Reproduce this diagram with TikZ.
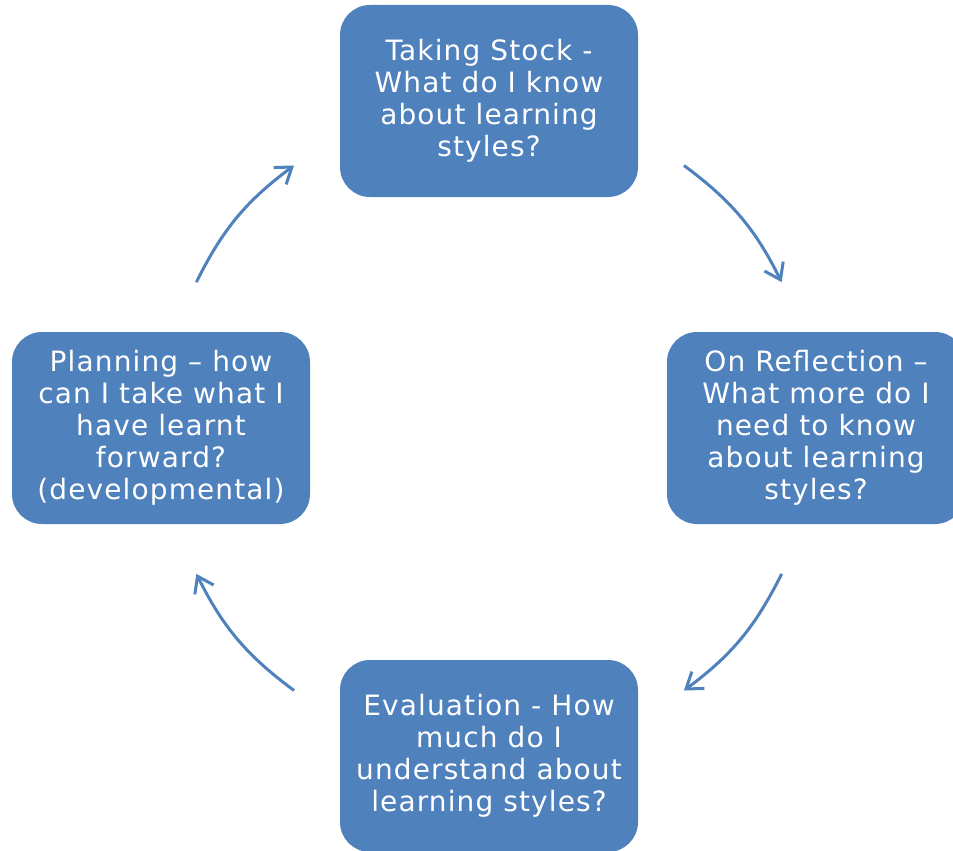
\documentclass[tikz,border=0pt]{standalone}
\usepackage{fontspec}
\setmainfont{DejaVu Sans}[LetterSpace=4]
\usetikzlibrary{arrows.meta}
\definecolor{stepblue}{HTML}{4F81BD}
\tikzset{
  stage/.style={rectangle,rounded corners=30pt,fill=stepblue,text=white,
    minimum width=298pt,minimum height=192pt,align=center,
    font=\fontsize{28}{32}\selectfont},
  cycle/.style={draw=stepblue,line width=3pt,
    -{Straight Barb[length=15pt,width=21pt,line width=3pt]}}
}
\begin{document}
\begin{tikzpicture}[x=1pt,y=1pt]
\useasboundingbox (0,0) rectangle (953,-851);
\path (489,-101) node[stage] (stock) {Taking Stock -\\What do I know\\about learning\\styles?};
\path (816,-428) node[stage] (reflect) {On Reflection –\\What more do I\\need to know\\about learning\\styles?};
\path (489,-756) node[stage] (eval) {Evaluation - How\\much do I\\understand about\\learning styles?};
\path (161,-428) node[stage] (plan) {Planning – how\\can I take what I\\have learnt\\forward?\\(developmental)};

% arcs on a circle round the middle
\coordinate (mid) at (489,-428);
\path (mid) ++(53.4:327) coordinate (a1) (mid) ++(26.5:327) coordinate (a2);
\path (mid) ++(-26.5:327) coordinate (b1) (mid) ++(-53.4:327) coordinate (b2);
\path (mid) ++(-126.6:327) coordinate (c1) (mid) ++(-153.5:327) coordinate (c2);
\path (mid) ++(153.5:327) coordinate (d1) (mid) ++(126.6:327) coordinate (d2);
\draw[cycle] (a1) to[bend left=13.5] (a2);
\draw[cycle] (b1) to[bend left=13.5] (b2);
\draw[cycle] (c1) to[bend left=13.5] (c2);
\draw[cycle] (d1) to[bend left=13.5] (d2);
\end{tikzpicture}
\end{document}
